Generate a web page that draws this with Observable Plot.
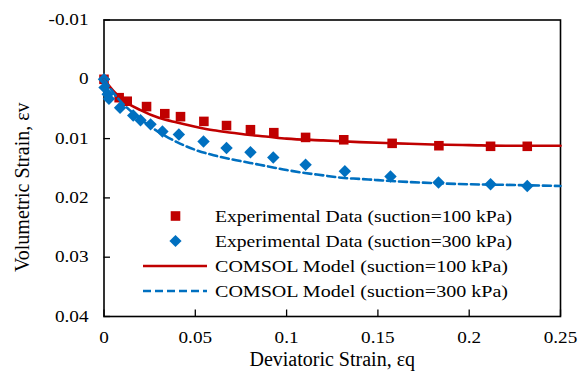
<!DOCTYPE html>
<html>
<head>
<meta charset="utf-8">
<script src="https://cdn.jsdelivr.net/npm/d3@7"></script>
<script src="https://cdn.jsdelivr.net/npm/@observablehq/plot@0.6"></script>
<style>
  html, body { margin: 0; padding: 0; background: #fff; }
  #chart svg { display: block; }
</style>
</head>
<body>
<div id="chart"></div>
<script>
// ---- Data ----
const xTicks = [0, 0.05, 0.1, 0.15, 0.2, 0.25];
const xTickLabels = ["0", "0.05", "0.1", "0.15", "0.2", "0.25"];
const yTicks = [-0.01, 0, 0.01, 0.02, 0.03, 0.04];
const yTickLabels = ["-0.01", "0", "0.01", "0.02", "0.03", "0.04"];

const exp100X = [0, 0.0083, 0.0127, 0.0233, 0.0333, 0.0419, 0.0547, 0.0671, 0.0802, 0.0930, 0.1104, 0.1313, 0.1578, 0.1834, 0.2117, 0.2318];
const exp100Y = [0, 0.0031, 0.0037, 0.0046, 0.0058, 0.0063, 0.0071, 0.0078, 0.0085, 0.0090, 0.0098, 0.0102, 0.0108, 0.0112, 0.0113, 0.0113];

const exp300X = [0, 0.0003, 0.0020, 0.0027, 0.0088, 0.0160, 0.0200, 0.0255, 0.0320, 0.0410, 0.0545, 0.0671, 0.0802, 0.0927, 0.1104, 0.1319, 0.1569, 0.1832, 0.2117, 0.2318];
const exp300Y = [0, 0.0014, 0.0025, 0.0033, 0.0048, 0.0061, 0.0069, 0.0076, 0.0088, 0.0093, 0.0105, 0.0116, 0.0123, 0.0132, 0.0144, 0.0155, 0.0164, 0.0174, 0.0177, 0.0180];

const model100X = [0, 0.005, 0.01, 0.02, 0.03, 0.04, 0.05, 0.06, 0.07, 0.08, 0.09, 0.10, 0.12, 0.14, 0.16, 0.18, 0.20, 0.22, 0.25];
const model100Y = [0, 0.0019, 0.0034, 0.0052, 0.0065, 0.0073, 0.0080, 0.0086, 0.0090, 0.0094, 0.0097, 0.0100, 0.0103, 0.0106, 0.0108, 0.0110, 0.0111, 0.0112, 0.0112];

const model300X = [0, 0.005, 0.01, 0.02, 0.03, 0.04, 0.05, 0.06, 0.07, 0.08, 0.09, 0.10, 0.11, 0.12, 0.13, 0.14, 0.15, 0.16, 0.18, 0.20, 0.22, 0.25];
const model300Y = [0, 0.0022, 0.0040, 0.0067, 0.0089, 0.0106, 0.0119, 0.0128, 0.0135, 0.0141, 0.0147, 0.0153, 0.0158, 0.0162, 0.0166, 0.0168, 0.0170, 0.0172, 0.0175, 0.0177, 0.0178, 0.0180];

const seriesLabels = [
  "Experimental Data (suction=100 kPa)",
  "Experimental Data (suction=300 kPa)",
  "COMSOL Model (suction=100 kPa)",
  "COMSOL Model (suction=300 kPa)"
];
const xTitle = "Deviatoric Strain, εq";
const yTitle = "Volumetric Strain, εv";

// ---- Build tables ----
const zip = (xs, ys) => xs.map((x, i) => ({x, y: ys[i]}));
const exp100 = zip(exp100X, exp100Y);
const exp300 = zip(exp300X, exp300Y);
const model100 = zip(model100X, model100Y);
const model300 = zip(model300X, model300Y);

const RED = "#C00000";
const BLUE = "#0070C0";
const FONT = "'Liberation Serif', 'Times New Roman', serif";

const legendItems = [
  {label: seriesLabels[0], kind: "square", color: RED, len: 297},
  {label: seriesLabels[1], kind: "diamond", color: BLUE, len: 297},
  {label: seriesLabels[2], kind: "solid", color: RED, len: 293},
  {label: seriesLabels[3], kind: "dashed", color: BLUE, len: 293}
];

function legendMark(index, scales, values, dimensions) {
  const {marginLeft, marginTop} = dimensions;
  const g = d3.create("svg:g")
    .attr("font-family", FONT)
    .attr("font-size", 17)
    .attr("fill", "#000");
  legendItems.forEach((it, i) => {
    const cy = marginTop + 196.5 + i * 25;
    const sx = marginLeft + 72;
    if (it.kind === "square") {
      g.append("rect").attr("x", sx - 4.8).attr("y", cy - 4.8).attr("width", 9.6).attr("height", 9.6).attr("fill", it.color);
    } else if (it.kind === "diamond") {
      g.append("path").attr("d", d3.symbol(d3.symbolDiamond2, 95)()).attr("transform", `translate(${sx},${cy})`).attr("fill", it.color);
    } else {
      g.append("line")
        .attr("x1", marginLeft + 39.5).attr("x2", marginLeft + 103.5)
        .attr("y1", cy).attr("y2", cy)
        .attr("stroke", it.color).attr("stroke-width", 2.6)
        .attr("stroke-dasharray", it.kind === "dashed" ? "8,4" : null);
    }
    g.append("text")
      .attr("x", marginLeft + 111.5).attr("y", cy)
      .attr("dy", "0.35em")
      .attr("text-anchor", "start")
      .attr("textLength", it.len)
      .attr("lengthAdjust", "spacingAndGlyphs")
      .text(it.label);
  });
  return g.node();
}

const chart = Plot.plot({
  width: 579,
  height: 372,
  marginLeft: 103.5,
  marginRight: 19,
  marginTop: 19.5,
  marginBottom: 56,
  style: {fontFamily: FONT, fontSize: "16px", color: "#000", background: "#fff"},
  x: {domain: [0, 0.25]},
  y: {domain: [-0.01, 0.04], reverse: true},
  marks: [
    Plot.axisX({ticks: xTicks, tickSize: 0, tickPadding: 15, tickFormat: d => xTickLabels[xTicks.indexOf(d)], label: null}),
    Plot.axisY({ticks: yTicks, tickSize: 0, tickPadding: 15.5, tickFormat: d => yTickLabels[yTicks.indexOf(d)], label: null}),
    Plot.tickX(xTicks, {x: d => d, insetTop: 290, stroke: "#000", strokeWidth: 1.3}),
    Plot.tickY(yTicks, {y: d => d, insetRight: 450, stroke: "#000", strokeWidth: 1.3}),
    Plot.text([xTitle], {frameAnchor: "bottom", lineAnchor: "middle", dy: 43, fontSize: 20, text: d => d, ariaLabel: "x-title"}),
    Plot.text([yTitle], {frameAnchor: "left", textAnchor: "middle", lineAnchor: "middle", dx: -81, dy: 19, rotate: -90, fontSize: 20, text: d => d, ariaLabel: "y-title"}),
    Plot.frame({stroke: "#000", strokeWidth: 1.6}),
    Plot.dot(exp100, {x: "x", y: "y", symbol: "square", r: 5.4, fill: RED, stroke: "none"}),
    Plot.dot(exp300, {x: "x", y: "y", symbol: "diamond2", r: 5.6, fill: BLUE, stroke: "none"}),
    Plot.line(model100, {x: "x", y: "y", stroke: RED, strokeWidth: 2.6, curve: "monotone-x"}),
    Plot.line(model300, {x: "x", y: "y", stroke: BLUE, strokeWidth: 2.6, strokeDasharray: "8,4", curve: "monotone-x"}),
    legendMark
  ]
});
document.getElementById("chart").append(chart);

// Widen glyphs horizontally to match the reference's text proportions
const stretch = (sel, f) => chart.querySelectorAll(sel).forEach(t => {
  const w = t.getComputedTextLength();
  t.setAttribute("textLength", (w * f).toFixed(1));
  t.setAttribute("lengthAdjust", "spacingAndGlyphs");
});
stretch('g[aria-label="x-axis tick label"] text', 1.2);
stretch('g[aria-label="y-axis tick label"] text', 1.2);
const fix = (sel, len) => chart.querySelectorAll(sel).forEach(t => {
  t.setAttribute("textLength", len);
  t.setAttribute("lengthAdjust", "spacingAndGlyphs");
});
fix('g[aria-label="x-title"] text', 203);
fix('g[aria-label="y-title"] text', 205);
</script>
</body>
</html>
